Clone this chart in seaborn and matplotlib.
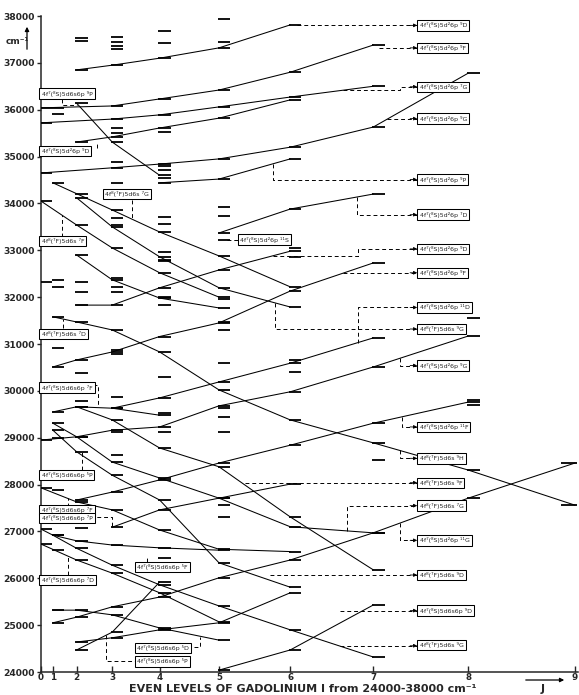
import numpy as np
import pandas as pd
import matplotlib
matplotlib.use("Agg")
import matplotlib.pyplot as plt
import seaborn as sns

# --- term series: (J, level in cm-1) ---
s01 = [(2, 36850), (3, 36950), (4, 37100), (5, 37320), (6, 37810)]
s02 = [(0, 36040), (3, 36080), (4, 36230), (5, 36420), (6, 36800), (7, 37380)]
s03 = [(0, 35720), (3, 35800), (4, 35890), (5, 36060), (6, 36270), (7, 36500)]
s04 = [(2, 35310), (3, 35420), (4, 35610), (5, 35820), (6, 36210)]
s05 = [(0, 34650), (3, 34760), (4, 34840), (5, 34950), (6, 35200), (7, 35630), (8, 36780)]
s06 = [(4, 34440), (5, 34520), (6, 34950)]
s07 = [(2, 36140), (3, 35310), (4, 34600)]
s08 = [(5, 33370), (6, 33880), (7, 34200)]
s09 = [(1, 34440), (3, 33860), (4, 33390), (5, 32880), (6, 32220)]
s10 = [(2, 34120), (3, 33500), (4, 32860), (5, 32200), (6, 31790)]
s11 = [(0, 34050), (2, 33540), (3, 33050), (4, 32520), (5, 32000)]
s12 = [(2, 31830), (3, 31830), (4, 32200), (5, 32580), (6, 32980)]
s13 = [(2, 32900), (3, 32370), (4, 31980), (5, 31770)]
s14 = [(1, 30510), (2, 30660), (3, 30830), (4, 31160), (5, 31450), (6, 32130), (7, 32730)]
s15 = [(1, 31580), (2, 31470), (3, 31300), (4, 30830), (5, 30020), (6, 29380), (7, 28890), (8, 28310), (9, 27560)]
s16 = [(3, 29630), (4, 29850), (5, 30190), (6, 30590), (7, 31130)]
s17 = [(0, 28950), (2, 29020), (3, 29160), (4, 29230), (5, 29680), (6, 29980), (7, 30510), (8, 31170)]
s18 = [(2, 29660), (3, 29380), (4, 28780), (5, 28380), (6, 27310), (7, 26180)]
s19 = [(1, 29550), (2, 29660), (3, 29630), (4, 29480)]
s20 = [(1, 29310), (2, 29020), (3, 28480), (4, 28140), (5, 27710), (6, 27100), (7, 26970)]
s21 = [(1, 29160), (2, 28700), (3, 28200), (4, 27670), (5, 26330), (6, 25810)]
s22 = [(0, 27930), (2, 27630), (3, 27460), (4, 27030), (5, 26620), (6, 26570)]
s23 = [(2, 27670), (3, 27840), (4, 28100), (5, 28460), (6, 28840), (7, 29310), (8, 29760)]
s24 = [(3, 27090), (4, 27460), (5, 27710), (6, 28010)]
s25 = [(0, 27050), (1, 26920), (2, 26800), (3, 26710), (4, 26650), (5, 26600)]
s26 = [(1, 26920), (2, 26640), (3, 26280), (4, 25860), (5, 25410), (6, 24900), (7, 24320)]
s27 = [(0, 26730), (2, 26390), (3, 26110), (4, 25690), (5, 25070)]
s28 = [(1, 25320), (2, 25320), (3, 25220), (4, 24940), (5, 24680)]
s29 = [(1, 25050), (2, 25170), (3, 25390), (4, 25600), (5, 26010), (6, 26390), (7, 26970), (8, 27710), (9, 28460)]
s30 = [(5, 24040), (6, 24470), (7, 25430)]
s31 = [(2, 24470), (3, 24850), (4, 25920)]
s32 = [(2, 24640), (3, 24730), (4, 24900), (5, 25050), (6, 25690)]

series = {
    "s01": s01, "s02": s02, "s03": s03, "s04": s04, "s05": s05, "s06": s06,
    "s07": s07, "s08": s08, "s09": s09, "s10": s10, "s11": s11, "s12": s12,
    "s13": s13, "s14": s14, "s15": s15, "s16": s16, "s17": s17, "s18": s18,
    "s19": s19, "s20": s20, "s21": s21, "s22": s22, "s23": s23, "s24": s24,
    "s25": s25, "s26": s26, "s27": s27, "s28": s28, "s29": s29, "s30": s30,
    "s31": s31, "s32": s32,
}

# levels not on any drawn series
lev_j0 = [32320]
lev_j1 = [36030, 35910, 32370, 32220, 30910, 28990, 27880, 26600]
lev_j2 = [37520, 37470, 34210, 32330, 32120, 30380, 29790, 27070]
lev_j3 = [37560, 37450, 37350, 37290, 35610, 35500, 34890, 34440, 33690, 33540,
          32410, 32220, 32120, 30870, 30790, 29870, 29130, 28630]
lev_j4 = [37670, 37420, 35530, 34800, 34710, 34540, 33700, 33570, 32970, 32800,
          32770, 32010, 31830, 30300, 29520, 29120, 26430]
lev_j5 = [37930, 37450, 33930, 33730, 33220, 31970, 31480, 31300, 30600, 29630,
          29440, 29130, 27560, 27310]
lev_j6 = [33040, 32860, 30660, 30410]
lev_j7 = [28520]
lev_j8 = [31550, 29800, 29700]
extra_levels = {0: lev_j0, 1: lev_j1, 2: lev_j2, 3: lev_j3, 4: lev_j4,
                5: lev_j5, 6: lev_j6, 7: lev_j7, 8: lev_j8}

# configuration labels (text, level)
right_labels = [
    ("4f⁷(⁸S)5d²6p ⁹D", 37800), ("4f⁷(⁸S)5d²6p ⁹F", 37320),
    ("4f⁷(⁸S)5d²6p ⁷G", 36490), ("4f⁷(⁸S)5d²6p ⁹G", 35810),
    ("4f⁷(⁸S)5d²6p ⁹P", 34510), ("4f⁷(⁸S)5d²6p ⁷D", 33760),
    ("4f⁷(⁸S)5d²6p ⁹D", 33030), ("4f⁷(⁸S)5d²6p ⁹F", 32520),
    ("4f⁷(⁸S)5d²6p ¹¹D", 31780), ("4f⁸(⁷F)5d6s ⁹G", 31320),
    ("4f⁷(⁸S)5d²6p ⁹G", 30540), ("4f⁷(⁸S)5d²6p ¹¹F", 29230),
    ("4f⁸(⁷F)5d6s ⁹H", 28560), ("4f⁸(⁷F)5d6s ⁹F", 28040),
    ("4f⁸(⁷F)5d6s ⁷G", 27550), ("4f⁷(⁸S)5d²6p ¹¹G", 26810),
    ("4f⁸(⁷F)5d6s ⁹D", 26070), ("4f⁷(⁸S)5d6s6p ⁹D", 25310),
    ("4f⁸(⁷F)5d6s ⁹G", 24570),
]
left_labels = [
    ("4f⁷(⁸S)5d6s6p ⁹P", 36345), ("4f⁷(⁸S)5d²6p ⁹D", 35120),
    ("4f⁸(⁷F)5d6s ⁷G", 34200), ("4f⁸(⁷F)5d6s ⁷F", 33200),
    ("4f⁸(⁷F)5d6s ⁷D", 31215), ("4f⁷(⁸S)5d6s6p ⁷F", 30070),
    ("4f⁷(⁸S)5d6s6p ⁵P", 28205), ("4f⁷(⁸S)5d6s6p ⁷F", 27460),
    ("4f⁷(⁸S)5d6s6p ⁷P", 27280), ("4f⁷(⁸S)5d6s6p ⁷D", 25965),
    ("4f⁷(⁸S)5d6s6p ⁵F", 26240), ("4f⁷(⁸S)5d6s6p ⁵D", 24515),
    ("4f⁷(⁸S)5d6s6p ⁵P", 24225), ("4f⁷(⁸S)5d²6p ¹¹S", 33230),
]

J_values = list(range(10))

# --- build the table ---
rows = []
for name, pts in series.items():
    for J, E in pts:
        rows.append((name, J, J * (J + 1), E))
df = pd.DataFrame(rows, columns=["series", "J", "x", "E"])

bars = df[["J", "E"]].values.tolist()
for J, levels in extra_levels.items():
    bars += [[J, E] for E in levels]
bars = pd.DataFrame(bars, columns=["J", "E"])
bars["x"] = bars["J"] * (bars["J"] + 1)

sns.set_style("ticks")
plt.rcParams["font.family"] = ["DejaVu Sans"]

fig = plt.figure(figsize=(5.79, 6.95), dpi=100)
ax = fig.add_axes([41 / 579, 23 / 695, 537 / 579, 656 / 695])

sns.lineplot(data=df, x="x", y="E", units="series", estimator=None, sort=False,
             color="black", lw=0.75, ax=ax, legend=False)

# level bars start at the J position and run to the right
last = bars["J"] == 9
ax.hlines(bars.loc[~last, "E"], bars.loc[~last, "x"] - 0.2, bars.loc[~last, "x"] + 1.9,
          color="black", lw=1.3, zorder=3)
ax.hlines(bars.loc[last, "E"], bars.loc[last, "x"] - 2.3, bars.loc[last, "x"] + 0.3,
          color="black", lw=1.3, zorder=3, clip_on=False)

# dashed leader lines to the term labels (data units: x = J(J+1), y = cm-1)
right_leaders = [
    [(43.2, 37800), (63.4, 37800)],
    [(57.0, 37320), (63.4, 37320)],
    [(50.9, 36420), (60.5, 36420), (60.5, 36490), (63.4, 36490)],
    [(58.3, 35810), (63.4, 35810)],
    [(39.1, 34850), (39.1, 34510), (63.4, 34510)],
    [(53.3, 34140), (53.3, 33760), (63.4, 33760)],
    [(39.1, 32870), (53.4, 32870), (53.4, 33030), (63.4, 33030)],
    [(50.9, 32520), (63.4, 32520)],
    [(53.4, 31030), (53.4, 31780), (63.4, 31780)],
    [(39.4, 31880), (39.4, 31320), (63.4, 31320)],
    [(60.5, 30700), (60.5, 30540), (63.4, 30540)],
    [(60.8, 29440), (60.8, 29230), (63.4, 29230)],
    [(60.5, 28730), (60.5, 28560), (63.4, 28560)],
    [(34.4, 28040), (63.4, 28040)],
    [(51.6, 27010), (51.6, 27550), (63.4, 27550)],
    [(60.5, 27180), (60.5, 26810), (63.4, 26810)],
    [(38.6, 26070), (63.4, 26070)],
    [(50.4, 25310), (63.4, 25310)],
    [(50.4, 24560), (63.4, 24560)],
]
left_leaders = [
    [(3.5, 36230), (3.5, 36100), (6.0, 36100)],
    [(9.4, 35190), (9.4, 35320)],
    [(15.3, 34070), (15.3, 33660)],
    [(3.5, 33290), (3.5, 33750)],
    [(3.7, 31340), (3.7, 31540)],
    [(8.8, 30120), (9.6, 30120), (9.6, 29650)],
    [(6.9, 28310), (6.9, 28690)],
    [(4.5, 27520), (4.5, 27710)],
    [(8.3, 27300), (12.0, 27300), (12.0, 27110)],
    [(4.5, 26070), (4.5, 26470)],
    [(17.9, 26350), (17.9, 26480)],
    [(25.8, 24530), (26.8, 24530), (26.8, 24740)],
    [(11.0, 24790), (11.0, 24225), (15.8, 24225)],
    [(31.4, 33230), (33.2, 33230)],
]
for path in right_leaders + left_leaders:
    px, py = zip(*path)
    ax.plot(px, py, color="black", lw=0.7, ls=(0, (4, 3)), zorder=2)
for path in right_leaders:
    (x0, y0), (x1, y1) = path[-2], path[-1]
    ax.annotate("", xy=(x1, y1), xytext=(x1 - 1.2, y1),
                arrowprops=dict(arrowstyle="-|>", lw=0.6, color="black",
                                mutation_scale=5, shrinkA=0, shrinkB=0))

box = dict(boxstyle="square,pad=0.35", fc="white", ec="black", lw=0.75)
for text, E in right_labels:
    ax.text(63.8, E, text, fontsize=4.5, ha="left", va="center", bbox=box, zorder=6)
left_x = [0.1] * 2 + [10.8] + [0.1] * 7 + [16.2] * 3 + [33.6]
for (text, E), lx in zip(left_labels, left_x):
    ax.text(lx, E, text, fontsize=4.5, ha="left", va="center", bbox=box, zorder=6)

ax.set_xlim(0, 90.5)
ax.set_ylim(24000, 38000)
ax.set_xticks([J * (J + 1) for J in J_values])
ax.set_xticklabels([str(J) for J in J_values])
ax.set_yticks(range(24000, 38001, 1000))
ax.set_xlabel("")
ax.set_ylabel("")
ax.tick_params(axis="x", direction="in", length=4, width=1, pad=0.8, labelsize=6.3)
ax.tick_params(axis="y", direction="out", length=3, width=1, pad=1.5, labelsize=6.6)
for lab in ax.get_xticklabels() + ax.get_yticklabels():
    lab.set_fontweight("bold")
sns.despine(ax=ax)
ax.spines["left"].set_linewidth(1.1)
ax.spines["bottom"].set_linewidth(1.1)

# unit and axis annotations
fig.text(0.030, 0.940, "cm⁻¹", fontsize=6.5, fontweight="bold", ha="center", va="center")
fig.add_artist(matplotlib.patches.FancyArrowPatch(
    (27 / 579, 1 - 52 / 695), (27 / 579, 1 - 24 / 695), transform=fig.transFigure,
    arrowstyle="-|>", mutation_scale=6, lw=0.9, color="black"))
fig.add_artist(matplotlib.patches.FancyArrowPatch(
    (523 / 579, 1 - 680 / 695), (567 / 579, 1 - 680 / 695), transform=fig.transFigure,
    arrowstyle="-|>", mutation_scale=6, lw=0.9, color="black"))
fig.text(543 / 579, 1 - 689 / 695, "J", fontsize=8, fontweight="bold", ha="center", va="center")
fig.text(303 / 579, 1 - 689.5 / 695, "EVEN LEVELS OF GADOLINIUM I from 24000-38000 cm⁻¹",
         fontsize=8, fontweight="bold", ha="center", va="center")

fig.savefig("out.png", dpi=100)
